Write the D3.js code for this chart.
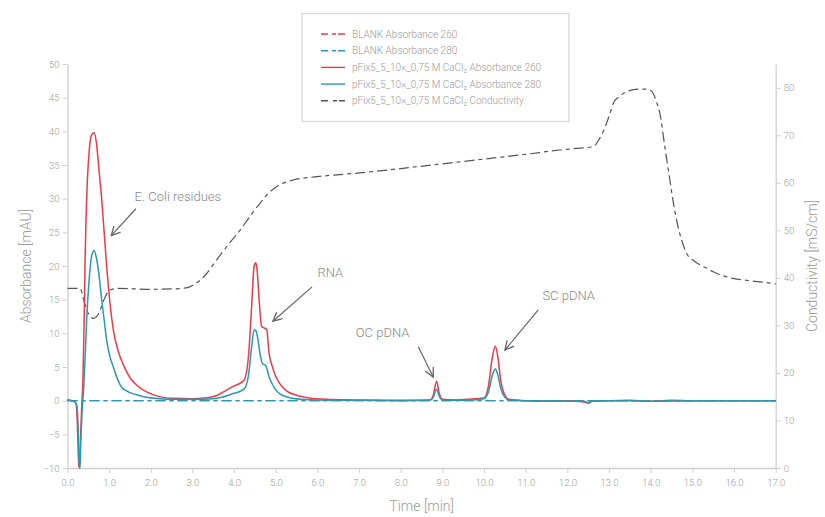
<!DOCTYPE html>
<html><head><meta charset="utf-8">
<script src="https://cdn.jsdelivr.net/npm/d3@7"></script>
<style>
body{margin:0;background:#fff;}
text{font-family:Roboto,"Open Sans",sans-serif;}
</style></head>
<body><svg id="c" width="825" height="517"></svg>
<script>
// ---- data ----
const xTicks = d3.range(0, 17.01, 1);
const yTicksLeft = d3.range(-10, 50.01, 5);
const yTicksRight = d3.range(0, 80.01, 10);

const abs260 = [
[0,0.1],[0.1,0.0],[0.18,-0.2],[0.21,-0.6],[0.24,-4],[0.27,-9.5],[0.29,-10],[0.31,-6],[0.34,-1],[0.37,3],[0.40,12],[0.42,20],[0.46,30],[0.52,37],[0.58,39.5],[0.64,39.8],[0.70,38],[0.76,34],[0.82,30],[0.88,25],[0.94,20],[1.02,14.5],[1.1,10.5],[1.22,7.3],[1.35,5.2],[1.5,3.4],[1.7,2.1],[1.9,1.3],[2.2,0.6],[2.5,0.35],[3.0,0.3],[3.3,0.4],[3.6,0.8],[3.8,1.5],[4.0,2.2],[4.15,2.6],[4.25,3.2],[4.35,7],[4.42,14],[4.48,20],[4.52,20.5],[4.55,19.5],[4.6,15],[4.66,11],[4.72,10.8],[4.78,10.6],[4.84,7],[4.92,5],[5.0,3.6],[5.1,2.5],[5.25,1.5],[5.5,0.8],[5.8,0.4],[6.2,0.2],[7,0.1],[8,0.05],[8.7,0.1],[8.78,0.8],[8.86,2.9],[8.92,1.2],[9.0,0.2],[9.3,0.1],[9.6,0.2],[10.0,0.4],[10.1,2],[10.2,6.5],[10.27,8.1],[10.33,6.5],[10.4,3],[10.5,0.8],[10.6,0.2],[11.0,0],[11.5,-0.05],[12.0,0],[12.4,-0.2],[12.5,-0.4],[12.6,-0.1],[13.0,0.0],[13.5,0.05],[14.0,-0.1],[14.5,0.05],[15,0],[16,0],[17,0]
];
const abs280 = [
[0,0.1],[0.1,0.0],[0.18,-0.2],[0.22,-0.6],[0.25,-3],[0.28,-9],[0.30,-10],[0.32,-6],[0.35,-1.5],[0.38,1],[0.42,6],[0.46,12],[0.52,18],[0.58,21.5],[0.64,22.3],[0.70,21],[0.76,18.5],[0.82,15],[0.88,12],[0.94,9],[1.02,6.5],[1.1,5],[1.2,3.2],[1.3,2],[1.5,1.2],[1.7,0.8],[1.9,0.5],[2.2,0.3],[2.5,0.2],[3.0,0.2],[3.4,0.25],[3.7,0.5],[4.0,1.1],[4.15,1.4],[4.25,1.8],[4.35,4],[4.42,8],[4.48,10.5],[4.52,10.4],[4.56,9.5],[4.62,7],[4.68,5.5],[4.76,5.2],[4.84,3.5],[4.92,2.4],[5.0,1.6],[5.1,1.0],[5.3,0.5],[5.6,0.2],[6.0,0.1],[7,0.05],[8,0],[8.7,0.05],[8.78,0.5],[8.86,1.7],[8.92,0.7],[9.0,0.1],[9.5,0.05],[10.0,0.3],[10.1,1.2],[10.2,3.8],[10.27,4.7],[10.33,3.8],[10.4,1.8],[10.5,0.5],[10.6,0.1],[11,0],[12.4,-0.1],[12.5,-0.3],[12.6,0],[13.5,0],[14,-0.1],[15,0],[17,0]
];
const blank260 = [[0,0],[17,0]];
const blank280 = [[0,0],[17,0]];
const conductivity = [
[0,37.8],[0.3,37.8],[0.4,35],[0.5,32.5],[0.62,31.5],[0.75,32.5],[0.88,35.5],[1.0,37.3],[1.2,37.8],[2.0,37.6],[2.6,37.7],[2.9,38.0],[3.02,38.5],[3.3,40.5],[3.58,43.8],[3.86,47],[4.14,50],[4.4,53.2],[4.62,55.7],[4.82,57.8],[5.02,59.2],[5.42,60.6],[6.0,61.3],[7.02,62.1],[8,63],[9,64],[10,65],[11,66],[11.82,66.9],[12.3,67.3],[12.62,67.6],[12.75,69],[12.86,70.8],[13.0,74],[13.1,76.7],[13.25,78.2],[13.43,79.2],[13.7,79.7],[13.9,79.7],[14.0,79.4],[14.06,78.8],[14.14,77],[14.22,74.6],[14.34,67.5],[14.46,60.6],[14.54,56],[14.62,52.2],[14.74,48],[14.86,45.2],[15.05,43.5],[15.26,42.4],[15.5,41.3],[15.82,40.2],[16.3,39.5],[16.86,38.9],[17.0,38.7]
];
const legendLabels = ["BLANK Absorbance 260","BLANK Absorbance 280","pFix5_5_10×_0,75 M CaCl₂ Absorbance 260","pFix5_5_10×_0,75 M CaCl₂ Absorbance 280","pFix5_5_10×_0,75 M CaCl₂ Conductivity"];
const annotations = [
 {from:[1.64,28.5], to:[1.05,24.5]},
 {from:[5.87,16.9], to:[4.93,11.8]},
 {from:[8.42,8.0], to:[8.78,3.5]},
 {from:[11.3,13.5], to:[10.5,7.5]}
];
const annotationText = [
 {text:"E. Coli residues", x:1.61, y:30.3},
 {text:"RNA", x:6.0, y:19.0},
 {text:"OC pDNA", x:6.92, y:10.2},
 {text:"SC pDNA", x:11.4, y:15.6}
];

// ---- layout ----
const svg = d3.select("#c");
const L = 67.5, R = 775.7, T = 64, B = 468;
const x = d3.scaleLinear().domain([0,17]).range([L,R]);
const y = d3.scaleLinear().domain([-10,50]).range([B,T]);
const y2 = d3.scaleLinear().domain([0,85]).range([B,T]);
const RED = "#ec3a46", TEAL = "#2b98b2", GREY="#555", AX="#d0d0d0", TXT="#9a9a9a";

function styleAxis(g){
  g.select(".domain").attr("stroke",AX).attr("stroke-width",1.3);
  g.selectAll(".tick line").attr("stroke",AX);
  g.selectAll(".tick text").attr("fill",TXT).style("font-size","9.5px").style("font-weight",300);
}
svg.append("g").attr("transform",`translate(0,${B})`)
  .call(d3.axisBottom(x).tickValues(xTicks).tickFormat(d3.format(".1f")).tickSize(5).tickSizeOuter(0).tickPadding(6))
  .call(styleAxis);
svg.append("g").attr("transform",`translate(${L},0)`)
  .call(d3.axisLeft(y).tickValues(yTicksLeft).tickSize(5).tickSizeOuter(0).tickPadding(3))
  .call(styleAxis);
svg.append("g").attr("transform",`translate(${R},0)`)
  .call(d3.axisRight(y2).tickValues(yTicksRight).tickSize(5).tickSizeOuter(0).tickPadding(3))
  .call(styleAxis);

svg.append("text").attr("transform",`translate(26,${(T+B)/2}) rotate(-90)`).attr("text-anchor","middle")
  .attr("dy","0.35em").attr("fill",TXT).style("font-size","14px").style("font-weight",300).text("Absorbance [mAU]");
svg.append("text").attr("transform",`translate(812,${(T+B)/2}) rotate(-90)`).attr("text-anchor","middle")
  .attr("dy","0.35em").attr("fill",TXT).style("font-size","14px").style("font-weight",300).text("Conductivity [mS/cm]");
svg.append("text").attr("x",(L+R)/2).attr("y",506).attr("text-anchor","middle").attr("dy","0.35em")
  .attr("fill",TXT).style("font-size","14px").style("font-weight",300).text("Time [min]");

const line = d3.line().x(d=>x(d[0])).y(d=>y(d[1])).curve(d3.curveMonotoneX);
const line2 = d3.line().x(d=>x(d[0])).y(d=>y2(d[1])).curve(d3.curveMonotoneX);
const DASH = "10,4,4,4";

svg.append("path").datum(conductivity).attr("d",line2).attr("fill","none").attr("stroke",GREY).attr("stroke-width",1.2).attr("stroke-dasharray",DASH);
svg.append("path").datum(abs260).attr("d",line).attr("fill","none").attr("stroke",RED).attr("stroke-width",1.5);
svg.append("path").datum(abs280).attr("d",line).attr("fill","none").attr("stroke",TEAL).attr("stroke-width",1.5);
svg.append("path").datum(blank260).attr("d",line).attr("fill","none").attr("stroke",RED).attr("stroke-width",1.2).attr("stroke-dasharray",DASH);
svg.append("path").datum(blank280).attr("d",line).attr("fill","none").attr("stroke",TEAL).attr("stroke-width",1.2).attr("stroke-dasharray",DASH);

// annotations
svg.append("defs").append("marker").attr("id","arr").attr("viewBox","0 0 12 12").attr("refX",11).attr("refY",6)
  .attr("markerWidth",12).attr("markerHeight",12).attr("orient","auto").attr("markerUnits","userSpaceOnUse")
  .append("path").attr("d","M2,1.5 L11,6 L2,10.5").attr("fill","none").attr("stroke","#666").attr("stroke-width",1.3);
annotations.forEach(a=>{
  svg.append("line").attr("x1",x(a.from[0])).attr("y1",y(a.from[1])).attr("x2",x(a.to[0])).attr("y2",y(a.to[1]))
    .attr("stroke","#666").attr("stroke-width",1.2).attr("marker-end","url(#arr)");
});
annotationText.forEach(a=>{
  svg.append("text").attr("x",x(a.x)).attr("y",y(a.y)).attr("dy","0.35em").attr("fill","#8a8a8a")
    .style("font-size","13px").style("font-weight",300).text(a.text);
});

// legend
const lg = svg.append("g");
lg.append("rect").attr("x",302).attr("y",13.5).attr("width",267).attr("height",108).attr("fill","#fff").attr("stroke","#d8d8d8").attr("stroke-width",1.3);
const lstyles = [{c:RED,d:"7,4,4,2"},{c:TEAL,d:"7,4,4,2"},{c:RED,d:null},{c:TEAL,d:null},{c:GREY,d:"7,5,4,2"}];
legendLabels.forEach((t,i)=>{
  const yy = 34 + i*16.7;
  lg.append("line").attr("x1",321).attr("x2",345).attr("y1",yy).attr("y2",yy).attr("stroke",lstyles[i].c)
    .attr("stroke-width",1.4).attr("stroke-dasharray",lstyles[i].d);
  lg.append("text").attr("x",352).attr("y",yy).attr("dy","0.35em").attr("fill",TXT).style("font-size","10px").style("font-weight",300).text(t);
});
</script></body></html>
